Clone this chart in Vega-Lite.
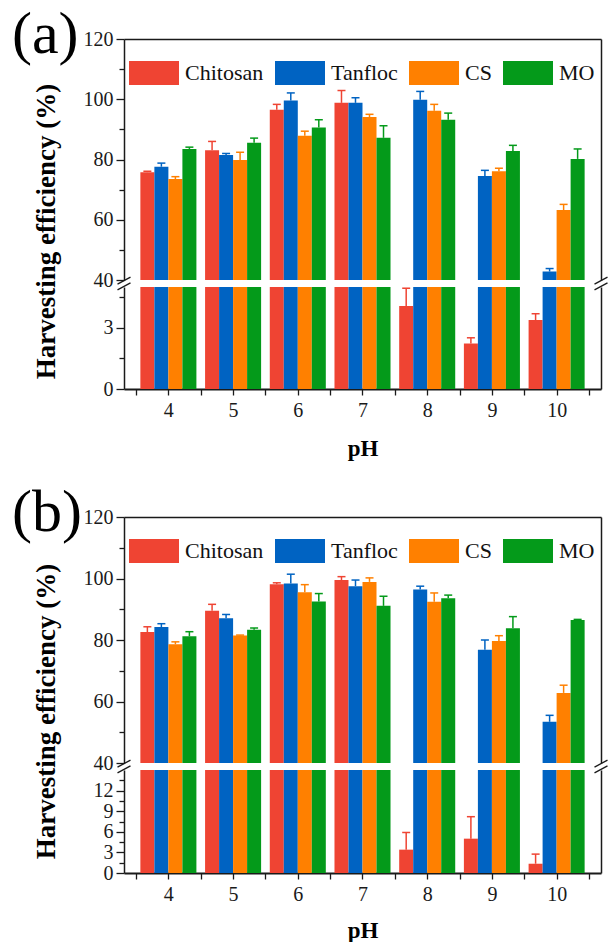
{
"$schema": "https://vega.github.io/schema/vega-lite/v6.json",
"padding": {"left": 12, "top": 5, "right": 4, "bottom": 0},
"background": "white",
"config": {
  "view": {"stroke": null},
  "font": "Liberation Serif",
  "title": {"font": "Liberation Serif", "fontSize": 60, "fontWeight": "normal", "anchor": "start", "frame": "group", "offset": 0, "color": "#000", "baseline": "alphabetic"},
  "axis": {"labelFont": "Liberation Serif", "labelFontSize": 20, "labelColor": "#1a1a1a", "domainColor": "#1a1a1a", "tickColor": "#1a1a1a", "domainWidth": 1.5, "tickWidth": 1.3, "tickSize": 8, "labelPadding": 3, "grid": false, "titleFont": "Liberation Serif", "titleFontWeight": "bold", "titleFontSize": 23, "titleColor": "#000"},
  "tick": {"opacity": 1},
  "rule": {"opacity": 1}
},
"datasets": {
  "a": [
    {"pH": 4, "Material": "Chitosan", "value": 75.8, "upper": 76.1},
    {"pH": 4, "Material": "Tanfloc", "value": 77.6, "upper": 78.8},
    {"pH": 4, "Material": "CS", "value": 73.5, "upper": 74.3},
    {"pH": 4, "Material": "MO", "value": 83.5, "upper": 84.1},
    {"pH": 5, "Material": "Chitosan", "value": 83.1, "upper": 86.0},
    {"pH": 5, "Material": "Tanfloc", "value": 81.5, "upper": 82.0},
    {"pH": 5, "Material": "CS", "value": 79.8, "upper": 82.4},
    {"pH": 5, "Material": "MO", "value": 85.6, "upper": 87.1},
    {"pH": 6, "Material": "Chitosan", "value": 96.5, "upper": 98.3},
    {"pH": 6, "Material": "Tanfloc", "value": 99.6, "upper": 102.1},
    {"pH": 6, "Material": "CS", "value": 87.9, "upper": 89.4},
    {"pH": 6, "Material": "MO", "value": 90.6, "upper": 93.2},
    {"pH": 7, "Material": "Chitosan", "value": 98.8, "upper": 102.9},
    {"pH": 7, "Material": "Tanfloc", "value": 98.8, "upper": 100.5},
    {"pH": 7, "Material": "CS", "value": 94.1, "upper": 95.0},
    {"pH": 7, "Material": "MO", "value": 87.2, "upper": 91.2},
    {"pH": 8, "Material": "Chitosan", "value": 4.07, "upper": 4.94},
    {"pH": 8, "Material": "Tanfloc", "value": 99.8, "upper": 102.6},
    {"pH": 8, "Material": "CS", "value": 96.2, "upper": 98.3},
    {"pH": 8, "Material": "MO", "value": 93.2, "upper": 95.4},
    {"pH": 9, "Material": "Chitosan", "value": 2.23, "upper": 2.51},
    {"pH": 9, "Material": "Tanfloc", "value": 74.5, "upper": 76.4},
    {"pH": 9, "Material": "CS", "value": 76.1, "upper": 77.1},
    {"pH": 9, "Material": "MO", "value": 82.8, "upper": 84.7},
    {"pH": 10, "Material": "Chitosan", "value": 3.38, "upper": 3.69},
    {"pH": 10, "Material": "Tanfloc", "value": 42.8, "upper": 43.8},
    {"pH": 10, "Material": "CS", "value": 63.2, "upper": 65.1},
    {"pH": 10, "Material": "MO", "value": 80.2, "upper": 83.5}
  ],
  "b": [
    {"pH": 4, "Material": "Chitosan", "value": 82.6, "upper": 84.3},
    {"pH": 4, "Material": "Tanfloc", "value": 84.2, "upper": 85.3},
    {"pH": 4, "Material": "CS", "value": 78.6, "upper": 79.4},
    {"pH": 4, "Material": "MO", "value": 81.2, "upper": 82.7},
    {"pH": 5, "Material": "Chitosan", "value": 89.5, "upper": 91.6},
    {"pH": 5, "Material": "Tanfloc", "value": 87.1, "upper": 88.3},
    {"pH": 5, "Material": "CS", "value": 81.5, "upper": 81.6},
    {"pH": 5, "Material": "MO", "value": 83.3, "upper": 83.9},
    {"pH": 6, "Material": "Chitosan", "value": 98.1, "upper": 98.6},
    {"pH": 6, "Material": "Tanfloc", "value": 98.4, "upper": 101.4},
    {"pH": 6, "Material": "CS", "value": 95.5, "upper": 98.0},
    {"pH": 6, "Material": "MO", "value": 92.5, "upper": 95.1},
    {"pH": 7, "Material": "Chitosan", "value": 99.5, "upper": 100.6},
    {"pH": 7, "Material": "Tanfloc", "value": 97.5, "upper": 99.5},
    {"pH": 7, "Material": "CS", "value": 98.9, "upper": 100.2},
    {"pH": 7, "Material": "MO", "value": 91.1, "upper": 94.2},
    {"pH": 8, "Material": "Chitosan", "value": 3.4, "upper": 5.9},
    {"pH": 8, "Material": "Tanfloc", "value": 96.4, "upper": 97.5},
    {"pH": 8, "Material": "CS", "value": 92.4, "upper": 95.3},
    {"pH": 8, "Material": "MO", "value": 93.6, "upper": 94.6},
    {"pH": 9, "Material": "Chitosan", "value": 5.0, "upper": 8.2},
    {"pH": 9, "Material": "Tanfloc", "value": 76.8, "upper": 80.0},
    {"pH": 9, "Material": "CS", "value": 79.7, "upper": 81.4},
    {"pH": 9, "Material": "MO", "value": 83.8, "upper": 87.6},
    {"pH": 10, "Material": "Chitosan", "value": 1.35, "upper": 2.75},
    {"pH": 10, "Material": "Tanfloc", "value": 53.4, "upper": 55.5},
    {"pH": 10, "Material": "CS", "value": 62.8, "upper": 65.3},
    {"pH": 10, "Material": "MO", "value": 86.5, "upper": 86.7}
  ]
},
"spacing": 23,
"resolve": {"scale": {"color": "independent"}, "legend": {"color": "independent"}},
"vconcat": [
 {
  "spacing": 7,
  "bounds": "flush",
  "resolve": {"scale": {"color": "independent"}, "legend": {"color": "independent"}},
  "vconcat": [
   {
    "data": {"name": "a"},
    "width": 477, "height": 241,
    "title": {"text": "(a)", "dx": -112, "dy": 41},
    "layer": [
     {"mark": {"type": "bar", "clip": true},
      "encoding": {
       "x": {"field": "pH", "type": "ordinal", "scale": {"paddingInner": 0.134, "paddingOuter": 0.253}, "axis": {"orient": "top", "labels": false, "ticks": false, "domain": true, "title": null}},
       "xOffset": {"field": "Material", "type": "nominal", "sort": ["Chitosan", "Tanfloc", "CS", "MO"], "scale": {"paddingInner": 0, "paddingOuter": 0}},
       "y": {"field": "value", "type": "quantitative", "scale": {"domain": [40, 120], "nice": false, "zero": false}, "axis": {"orient": "left", "values": [40, 60, 80, 100, 120], "title": "Harvesting efficiency (%)", "titleFontSize": 27, "titleAngle": 270, "titleAlign": "center", "titleBaseline": "middle", "titleX": -78, "titleY": 192}},
       "color": {"field": "Material", "type": "nominal", "sort": ["Chitosan", "Tanfloc", "CS", "MO"], "scale": {"domain": ["Chitosan", "Tanfloc", "CS", "MO"], "range": ["#EF4433", "#0063C2", "#FF8000", "#049A1A"]},
         "legend": {"orient": "none", "legendX": 5, "legendY": 9, "direction": "horizontal", "title": null, "symbolType": "M-1,-0.48H1V0.48H-1Z", "symbolSize": 2500, "symbolStrokeWidth": 0, "symbolOpacity": 1, "labelFont": "Liberation Serif", "labelFontSize": 22, "labelColor": "#111", "labelOffset": 6, "columnPadding": 11, "padding": 0}}
      }},
     {"mark": {"type": "rule", "clip": true, "strokeWidth": 1.5},
      "encoding": {
       "x": {"field": "pH", "type": "ordinal", "scale": {"paddingInner": 0.134, "paddingOuter": 0.253}, "axis": null},
       "xOffset": {"field": "Material", "type": "nominal", "sort": ["Chitosan", "Tanfloc", "CS", "MO"], "scale": {"paddingInner": 0, "paddingOuter": 0}},
       "y": {"field": "value", "type": "quantitative", "axis": {"orient": "left", "values": [50, 70, 90, 110], "labels": false, "domain": false, "tickSize": 5, "title": null}},
       "y2": {"field": "upper"},
       "color": {"field": "Material", "type": "nominal", "sort": ["Chitosan", "Tanfloc", "CS", "MO"]}
      }},
     {"mark": {"type": "tick", "clip": true, "thickness": 1.5, "size": 8, "opacity": 1},
      "encoding": {
       "x": {"field": "pH", "type": "ordinal", "scale": {"paddingInner": 0.134, "paddingOuter": 0.253}, "axis": null},
       "xOffset": {"field": "Material", "type": "nominal", "sort": ["Chitosan", "Tanfloc", "CS", "MO"], "scale": {"paddingInner": 0, "paddingOuter": 0}},
       "y": {"field": "upper", "type": "quantitative", "axis": {"orient": "right", "labels": false, "ticks": false, "domain": true, "title": null}},
       "color": {"field": "Material", "type": "nominal", "sort": ["Chitosan", "Tanfloc", "CS", "MO"]}
      }}
    ],
    "resolve": {"axis": {"x": "independent", "y": "independent"}}
   },
   {
    "data": {"name": "a"},
    "width": 477, "height": 102,
    "layer": [
     {"mark": {"type": "bar", "clip": true},
      "encoding": {
       "x": {"field": "pH", "type": "ordinal", "scale": {"paddingInner": 0.134, "paddingOuter": 0.253}, "axis": null},
       "xOffset": {"field": "Material", "type": "nominal", "sort": ["Chitosan", "Tanfloc", "CS", "MO"], "scale": {"paddingInner": 0, "paddingOuter": 0}},
       "y": {"field": "value", "type": "quantitative", "scale": {"domain": [0, 5], "nice": false, "zero": false}, "axis": {"orient": "left", "values": [0, 3], "title": null}},
       "color": {"field": "Material", "type": "nominal", "sort": ["Chitosan", "Tanfloc", "CS", "MO"], "scale": {"domain": ["Chitosan", "Tanfloc", "CS", "MO"], "range": ["#EF4433", "#0063C2", "#FF8000", "#049A1A"]}, "legend": null}
      }},
     {"mark": {"type": "rule", "clip": true, "strokeWidth": 1.5},
      "encoding": {
       "x": {"field": "pH", "type": "ordinal", "scale": {"paddingInner": 0.134, "paddingOuter": 0.253}, "axis": null},
       "xOffset": {"field": "Material", "type": "nominal", "sort": ["Chitosan", "Tanfloc", "CS", "MO"], "scale": {"paddingInner": 0, "paddingOuter": 0}},
       "y": {"field": "value", "type": "quantitative", "axis": {"orient": "left", "values": [1.5, 4.5], "labels": false, "domain": false, "tickSize": 5, "title": null}},
       "y2": {"field": "upper"},
       "color": {"field": "Material", "type": "nominal", "sort": ["Chitosan", "Tanfloc", "CS", "MO"], "legend": null}
      }},
     {"mark": {"type": "tick", "clip": true, "thickness": 1.5, "size": 8, "opacity": 1},
      "encoding": {
       "x": {"field": "pH", "type": "ordinal", "scale": {"paddingInner": 0.134, "paddingOuter": 0.253}, "axis": null},
       "xOffset": {"field": "Material", "type": "nominal", "sort": ["Chitosan", "Tanfloc", "CS", "MO"], "scale": {"paddingInner": 0, "paddingOuter": 0}},
       "y": {"field": "upper", "type": "quantitative", "axis": {"orient": "right", "labels": false, "ticks": false, "domain": true, "title": null}},
       "color": {"field": "Material", "type": "nominal", "sort": ["Chitosan", "Tanfloc", "CS", "MO"], "legend": null}
      }},
     {"mark": {"type": "point", "opacity": 0},
      "encoding": {
       "x": {"field": "pH", "type": "quantitative", "scale": {"domain": [3.315, 10.685], "nice": false, "zero": false},
         "axis": {"orient": "bottom", "values": [3.5, 4, 4.5, 5, 5.5, 6, 6.5, 7, 7.5, 8, 8.5, 9, 9.5, 10, 10.5], "labelExpr": "datum.value % 1 === 0 ? format(datum.value, 'd') : ''", "title": "pH", "tickSize": 6, "domainWidth": 2, "labelPadding": 5, "titlePadding": 17}}
      }},
     {"data": {"values": [{}]},
      "mark": {"type": "point", "shape": "M-1,0.1L1,-0.98M-1,0.98L1,-0.1", "size": 169, "filled": false, "stroke": "#1a1a1a", "strokeWidth": 1.3, "opacity": 1},
      "encoding": {
       "x": {"datum": 3.315, "type": "quantitative", "scale": {"domain": [3.315, 10.685], "nice": false, "zero": false}, "axis": null},
       "y": {"datum": 5.17, "type": "quantitative", "axis": null}
      }},
     {"data": {"values": [{}]},
      "mark": {"type": "point", "shape": "M-1,0.1L1,-0.98M-1,0.98L1,-0.1", "size": 169, "filled": false, "stroke": "#1a1a1a", "strokeWidth": 1.3, "opacity": 1},
      "encoding": {
       "x": {"datum": 10.685, "type": "quantitative", "scale": {"domain": [3.315, 10.685], "nice": false, "zero": false}, "axis": null},
       "y": {"datum": 5.17, "type": "quantitative", "axis": null}
      }}
    ],
    "resolve": {"scale": {"x": "independent"}, "axis": {"x": "independent", "y": "independent"}}
   }
  ]
 },
 {
  "spacing": 7,
  "bounds": "flush",
  "resolve": {"scale": {"color": "independent"}, "legend": {"color": "independent"}},
  "vconcat": [
   {
    "data": {"name": "b"},
    "width": 477, "height": 246,
    "title": {"text": "(b)", "dx": -112, "dy": 41},
    "layer": [
     {"mark": {"type": "bar", "clip": true},
      "encoding": {
       "x": {"field": "pH", "type": "ordinal", "scale": {"paddingInner": 0.134, "paddingOuter": 0.253}, "axis": {"orient": "top", "labels": false, "ticks": false, "domain": true, "title": null}},
       "xOffset": {"field": "Material", "type": "nominal", "sort": ["Chitosan", "Tanfloc", "CS", "MO"], "scale": {"paddingInner": 0, "paddingOuter": 0}},
       "y": {"field": "value", "type": "quantitative", "scale": {"domain": [40, 120], "nice": false, "zero": false}, "axis": {"orient": "left", "values": [40, 60, 80, 100, 120], "title": "Harvesting efficiency (%)", "titleFontSize": 27, "titleAngle": 270, "titleAlign": "center", "titleBaseline": "middle", "titleX": -78, "titleY": 194}},
       "color": {"field": "Material", "type": "nominal", "sort": ["Chitosan", "Tanfloc", "CS", "MO"], "scale": {"domain": ["Chitosan", "Tanfloc", "CS", "MO"], "range": ["#EF4433", "#0063C2", "#FF8000", "#049A1A"]},
         "legend": {"orient": "none", "legendX": 5, "legendY": 9, "direction": "horizontal", "title": null, "symbolType": "M-1,-0.48H1V0.48H-1Z", "symbolSize": 2500, "symbolStrokeWidth": 0, "symbolOpacity": 1, "labelFont": "Liberation Serif", "labelFontSize": 22, "labelColor": "#111", "labelOffset": 6, "columnPadding": 11, "padding": 0}}
      }},
     {"mark": {"type": "rule", "clip": true, "strokeWidth": 1.5},
      "encoding": {
       "x": {"field": "pH", "type": "ordinal", "scale": {"paddingInner": 0.134, "paddingOuter": 0.253}, "axis": null},
       "xOffset": {"field": "Material", "type": "nominal", "sort": ["Chitosan", "Tanfloc", "CS", "MO"], "scale": {"paddingInner": 0, "paddingOuter": 0}},
       "y": {"field": "value", "type": "quantitative", "axis": {"orient": "left", "values": [50, 70, 90, 110], "labels": false, "domain": false, "tickSize": 5, "title": null}},
       "y2": {"field": "upper"},
       "color": {"field": "Material", "type": "nominal", "sort": ["Chitosan", "Tanfloc", "CS", "MO"]}
      }},
     {"mark": {"type": "tick", "clip": true, "thickness": 1.5, "size": 8, "opacity": 1},
      "encoding": {
       "x": {"field": "pH", "type": "ordinal", "scale": {"paddingInner": 0.134, "paddingOuter": 0.253}, "axis": null},
       "xOffset": {"field": "Material", "type": "nominal", "sort": ["Chitosan", "Tanfloc", "CS", "MO"], "scale": {"paddingInner": 0, "paddingOuter": 0}},
       "y": {"field": "upper", "type": "quantitative", "axis": {"orient": "right", "labels": false, "ticks": false, "domain": true, "title": null}},
       "color": {"field": "Material", "type": "nominal", "sort": ["Chitosan", "Tanfloc", "CS", "MO"]}
      }}
    ],
    "resolve": {"axis": {"x": "independent", "y": "independent"}}
   },
   {
    "data": {"name": "b"},
    "width": 477, "height": 103,
    "layer": [
     {"mark": {"type": "bar", "clip": true},
      "encoding": {
       "x": {"field": "pH", "type": "ordinal", "scale": {"paddingInner": 0.134, "paddingOuter": 0.253}, "axis": null},
       "xOffset": {"field": "Material", "type": "nominal", "sort": ["Chitosan", "Tanfloc", "CS", "MO"], "scale": {"paddingInner": 0, "paddingOuter": 0}},
       "y": {"field": "value", "type": "quantitative", "scale": {"domain": [0, 15], "nice": false, "zero": false}, "axis": {"orient": "left", "values": [0, 3, 6, 9, 12], "title": null}},
       "color": {"field": "Material", "type": "nominal", "sort": ["Chitosan", "Tanfloc", "CS", "MO"], "scale": {"domain": ["Chitosan", "Tanfloc", "CS", "MO"], "range": ["#EF4433", "#0063C2", "#FF8000", "#049A1A"]}, "legend": null}
      }},
     {"mark": {"type": "rule", "clip": true, "strokeWidth": 1.5},
      "encoding": {
       "x": {"field": "pH", "type": "ordinal", "scale": {"paddingInner": 0.134, "paddingOuter": 0.253}, "axis": null},
       "xOffset": {"field": "Material", "type": "nominal", "sort": ["Chitosan", "Tanfloc", "CS", "MO"], "scale": {"paddingInner": 0, "paddingOuter": 0}},
       "y": {"field": "value", "type": "quantitative", "axis": {"orient": "left", "values": [1.5, 4.5, 7.5, 10.5, 13.5], "labels": false, "domain": false, "tickSize": 5, "title": null}},
       "y2": {"field": "upper"},
       "color": {"field": "Material", "type": "nominal", "sort": ["Chitosan", "Tanfloc", "CS", "MO"], "legend": null}
      }},
     {"mark": {"type": "tick", "clip": true, "thickness": 1.5, "size": 8, "opacity": 1},
      "encoding": {
       "x": {"field": "pH", "type": "ordinal", "scale": {"paddingInner": 0.134, "paddingOuter": 0.253}, "axis": null},
       "xOffset": {"field": "Material", "type": "nominal", "sort": ["Chitosan", "Tanfloc", "CS", "MO"], "scale": {"paddingInner": 0, "paddingOuter": 0}},
       "y": {"field": "upper", "type": "quantitative", "axis": {"orient": "right", "labels": false, "ticks": false, "domain": true, "title": null}},
       "color": {"field": "Material", "type": "nominal", "sort": ["Chitosan", "Tanfloc", "CS", "MO"], "legend": null}
      }},
     {"mark": {"type": "point", "opacity": 0},
      "encoding": {
       "x": {"field": "pH", "type": "quantitative", "scale": {"domain": [3.315, 10.685], "nice": false, "zero": false},
         "axis": {"orient": "bottom", "values": [3.5, 4, 4.5, 5, 5.5, 6, 6.5, 7, 7.5, 8, 8.5, 9, 9.5, 10, 10.5], "labelExpr": "datum.value % 1 === 0 ? format(datum.value, 'd') : ''", "title": "pH", "tickSize": 6, "domainWidth": 2, "labelPadding": 5, "titlePadding": 15}}
      }},
     {"data": {"values": [{}]},
      "mark": {"type": "point", "shape": "M-1,0.1L1,-0.98M-1,0.98L1,-0.1", "size": 169, "filled": false, "stroke": "#1a1a1a", "strokeWidth": 1.3, "opacity": 1},
      "encoding": {
       "x": {"datum": 3.315, "type": "quantitative", "scale": {"domain": [3.315, 10.685], "nice": false, "zero": false}, "axis": null},
       "y": {"datum": 15.51, "type": "quantitative", "axis": null}
      }},
     {"data": {"values": [{}]},
      "mark": {"type": "point", "shape": "M-1,0.1L1,-0.98M-1,0.98L1,-0.1", "size": 169, "filled": false, "stroke": "#1a1a1a", "strokeWidth": 1.3, "opacity": 1},
      "encoding": {
       "x": {"datum": 10.685, "type": "quantitative", "scale": {"domain": [3.315, 10.685], "nice": false, "zero": false}, "axis": null},
       "y": {"datum": 15.51, "type": "quantitative", "axis": null}
      }}
    ],
    "resolve": {"scale": {"x": "independent"}, "axis": {"x": "independent", "y": "independent"}}
   }
  ]
 }
]
}
